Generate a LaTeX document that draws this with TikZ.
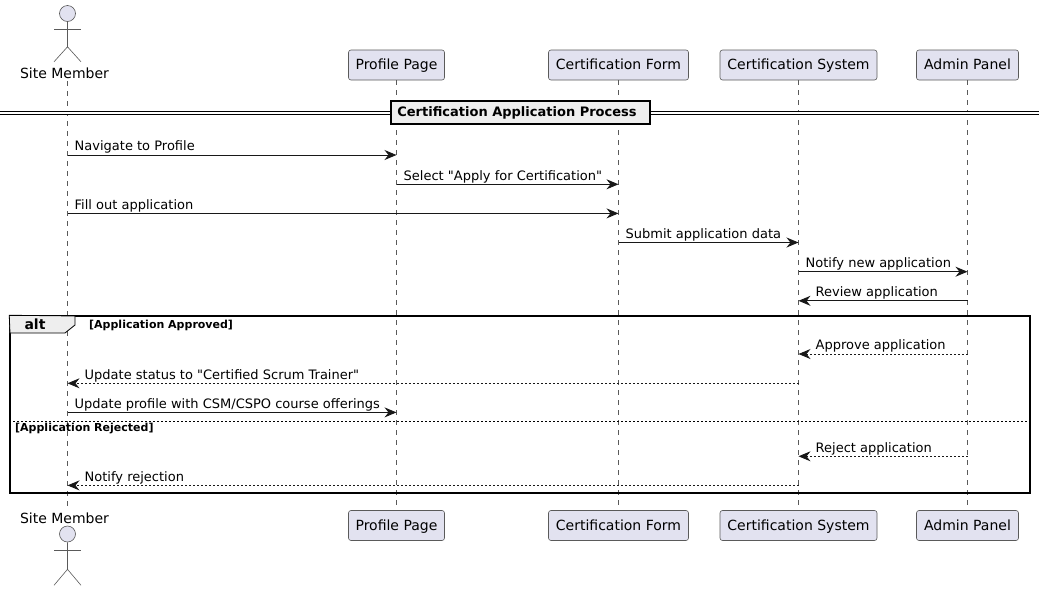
\documentclass[tikz,border=0pt]{standalone}
\usepackage{fontspec}
\setmainfont{DejaVu Sans}[Ligatures=TeXOff]
\usetikzlibrary{arrows.meta}
\definecolor{partfill}{HTML}{E2E2F0}
\definecolor{partline}{HTML}{5A5A5A}
\definecolor{msgline}{HTML}{181818}
\definecolor{groupfill}{HTML}{EEEEEE}
\tikzset{
	part/.style={draw=partline,fill=partfill,line width=0.6pt,rounded corners=2.5pt,minimum height=30pt,inner sep=0pt,text height=11.5pt,text depth=2pt,font=\fontsize{14}{16}\selectfont},
	head/.style={circle,draw=partline,fill=partfill,line width=0.6pt,minimum size=16pt,inner sep=0pt},
	limb/.style={draw=partline,line width=0.6pt},
	actorname/.style={inner sep=0pt,anchor=base,font=\fontsize{14}{16}\selectfont},
	life/.style={draw=partline,line width=0.6pt,dash pattern=on 5pt off 5pt},
	msg/.style={draw=msgline,line width=1pt,-{Stealth[length=12pt,width=10pt,inset=4pt]}},
	dmsg/.style={msg,dash pattern=on 2pt off 2pt},
	msgtext/.style={inner sep=0pt,anchor=base west,font=\fontsize{13}{15}\selectfont},
	guard/.style={inner sep=0pt,anchor=base west,font=\fontsize{11}{13}\selectfont\bfseries},
}
\begin{document}
\begin{tikzpicture}[x=1pt,y=-1pt]
	\useasboundingbox (0,0) rectangle (1045,590);
	% participants, top and bottom
	\foreach \nm/\x/\w/\txt in {page/396.5/96/Profile Page,form/618.5/140/Certification Form,sys/798.5/157/Certification System,admin/967.5/102/Admin Panel}{%
		\node [part,minimum width=\w pt] (\nm) at (\x,65) {\txt};
		\node [part,minimum width=\w pt] (\nm2) at (\x,525.5) {\txt};
	}
	% actor, top and bottom
	\node [actorname] (memname) at (64.5,78) {Site Member};
	\node [actorname] (memname2) at (64.5,523) {Site Member};
	\node [head] (memhead) at (67.5,13.5) {};
	\node [head] (memhead2) at (67.5,534) {};
	\coordinate (mem) at (67.5,81);
	\coordinate (mem2) at (67.5,510);
	\draw [limb] (memhead.south) -- +(0,25) -- +(-13.5,40) +(0,25) -- +(13.5,40);
	\draw [limb] (54,29) -- (81,29);
	\draw [limb] (memhead2.south) -- +(0,27) -- +(-13.5,43) +(0,27) -- +(13.5,43);
	\draw [limb] (54,550) -- (81,550);
	% lifelines
	\foreach \a/\b in {mem/mem2,page/page2,form/form2,sys/sys2,admin/admin2}{%
		\draw [life] (\a) -- (\b);
	}
	% divider
	\coordinate (dleft) at (0,113);
	\coordinate (dright) at (1039,113);
	\draw [line width=1pt,double,double distance=2pt] (dleft) -- (dright);
	\node [draw,line width=2pt,fill=groupfill,inner sep=0pt,minimum width=259pt,minimum height=23pt,font=\fontsize{13}{15}\selectfont\bfseries] (title) at (520,112.5) {Certification Application Process\hspace*{6pt}};
	% alt frame
	\node [draw,line width=1.5pt,inner sep=0pt,minimum width=1020pt,minimum height=177pt] (frame) at (520,404.5) {};
	\draw [line width=0.8pt,fill=groupfill] (frame.north west) -- (75,316) -- (75,325) -- (65,333) -- (10,333) -- cycle;
	\draw [line width=1.5pt] (frame.north west) -- (frame.north east);
	\node [inner sep=0pt,anchor=base,font=\fontsize{14}{16}\selectfont\bfseries] (altname) at (35,329.5) {alt};
	\node [guard] (guard1) at (89,328) {[Application Approved]};
	\draw [line width=1pt,dash pattern=on 2pt off 2pt] (frame.west |- 0,421) -- (frame.east |- 0,421);
	\node [guard] (guard2) at (15,431.5) {[Application Rejected]};
	% messages going right
	\foreach \n/\a/\b/\y/\txt in {1/mem/page/155/Navigate to Profile,2/page/form/184.3/Select "Apply for Certification",3/mem/form/213.4/Fill out application,4/form/sys/242.5/Submit application data,5/sys/admin/271.7/Notify new application,9/mem/page/412.4/{Update profile with CSM/CSPO course offerings}}{%
		\coordinate (r\n) at (0,\y);
		\draw [msg] (\a |- r\n) -- (\b |- r\n);
		\node [msgtext] (lab\n) at ([xshift=7pt,yshift=4.2pt]\a |- r\n) {\txt};
	}
	% messages going left
	\foreach \n/\a/\b/\y/\sty/\txt in {6/admin/sys/300.8/msg/Review application,7/admin/sys/354/dmsg/Approve application,8/sys/mem/383.3/dmsg/Update status to "Certified Scrum Trainer",10/admin/sys/456.3/dmsg/Reject application,11/sys/mem/485.4/dmsg/Notify rejection}{%
		\coordinate (r\n) at (0,\y);
		\draw [\sty] (\a |- r\n) -- (\b |- r\n);
		\node [msgtext] (lab\n) at ([xshift=17pt,yshift=4.2pt]\b |- r\n) {\txt};
	}
\end{tikzpicture}
\end{document}
